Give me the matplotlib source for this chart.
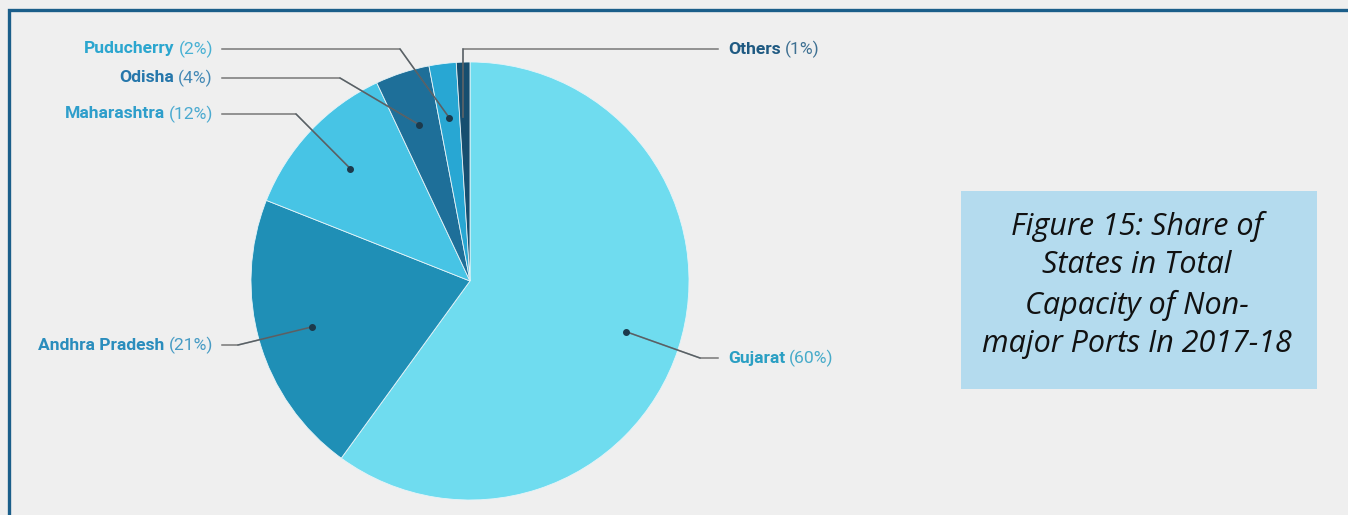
import matplotlib.pyplot as plt
import numpy as np
from matplotlib.patches import Rectangle

states = ["Gujarat", "Andhra Pradesh", "Maharashtra", "Odisha", "Puducherry", "Others"]
shares = [60, 21, 12, 4, 2, 1]
slice_colors = ["#6fdcef", "#1f8fb6", "#47c4e5", "#1e6f99", "#28a7d3", "#164e6f"]
label_colors = ["#2a9fc3", "#2a8dbd", "#2e9ecb", "#2677ab", "#2ba6cf", "#1f5a82"]

W, H = 1348, 515
bg = "#efefef"

fig = plt.figure(figsize=(W / 100, H / 100), dpi=100, facecolor=bg)
ax = fig.add_axes([0, 0, 1, 1])


def py(y):
    # pixel rows run downward, data y runs upward
    return H - y


cx, cy, R = 470, py(281), 219
wedges, _ = ax.pie(shares, colors=slice_colors, startangle=90, counterclock=False,
                   center=(cx, cy), radius=R, frame=True,
                   wedgeprops=dict(edgecolor="#e6f4f8", linewidth=0.6))
ax.set_xlim(0, W)
ax.set_ylim(0, H)
ax.set_aspect("equal")
ax.axis("off")

# label placement: (text x, text y, side, elbow point)
layout = {
    "Gujarat": (728, 358, "left", (700, 358)),
    "Andhra Pradesh": (213, 345, "right", (238, 345)),
    "Maharashtra": (213, 114, "right", (296, 114)),
    "Odisha": (213, 78, "right", (340, 78)),
    "Puducherry": (213, 49, "right", (400, 49)),
    "Others": (728, 49, "left", (463, 49)),
}

fig.canvas.draw()
renderer = fig.canvas.get_renderer()
inv = ax.transData.inverted()
fs = 12.6

for w, name, val, lc in zip(wedges, states, shares, label_colors):
    mid = np.deg2rad((w.theta1 + w.theta2) / 2)
    dx, dy = cx + 0.75 * R * np.cos(mid), cy + 0.75 * R * np.sin(mid)
    tx, ty, side, (ex, ey) = layout[name]
    ty, ey = py(ty), py(ey)
    if name == "Others":
        dx = ex
    lx = tx + 9 if side == "right" else tx - 10
    ax.plot([dx, ex, lx], [dy, ey, ey], color="#777777", lw=1.1, zorder=3,
            solid_joinstyle="miter")
    ax.plot([dx, ex], [dy, ey], color="#3a4a55", lw=1.1, zorder=3, alpha=0.5)
    if name != "Others":
        ax.plot(dx, dy, "o", ms=4, color="#1c3a4c", zorder=4)

    pct = f"({val}%)"
    if side == "right":
        t2 = ax.text(tx, ty, pct, ha="right", va="center", fontsize=fs,
                     family="Roboto", color=lc, alpha=0.85)
        bb = t2.get_window_extent(renderer)
        x0 = inv.transform((bb.x0, 0))[0]
        ax.text(x0 - 4, ty, name, ha="right", va="center", fontsize=fs,
                family="Roboto", weight="bold", color=lc)
    else:
        t1 = ax.text(tx, ty, name, ha="left", va="center", fontsize=fs,
                     family="Roboto", weight="bold", color=lc)
        bb = t1.get_window_extent(renderer)
        x1 = inv.transform((bb.x1, 0))[0]
        ax.text(x1 + 4, ty, pct, ha="left", va="center", fontsize=fs,
                family="Roboto", color=lc, alpha=0.85)

# caption box
ax.add_patch(Rectangle((961, py(389)), 356, 198, facecolor="#b4dbee",
                       edgecolor="none", zorder=1))
ax.text(1137, py(285), "Figure 15: Share of\nStates in Total\nCapacity of Non-\nmajor Ports In 2017-18",
        ha="center", va="center", fontsize=22, family="Open Sans", style="italic",
        color="#111111", linespacing=1.38, zorder=2)

# frame along the left and top edges
ax.plot([9, 9, W], [0, py(10), py(10)], color="#1b5e8a", lw=2.4,
        solid_joinstyle="miter", clip_on=False)

fig.savefig("out.png", dpi=100, facecolor=bg)
